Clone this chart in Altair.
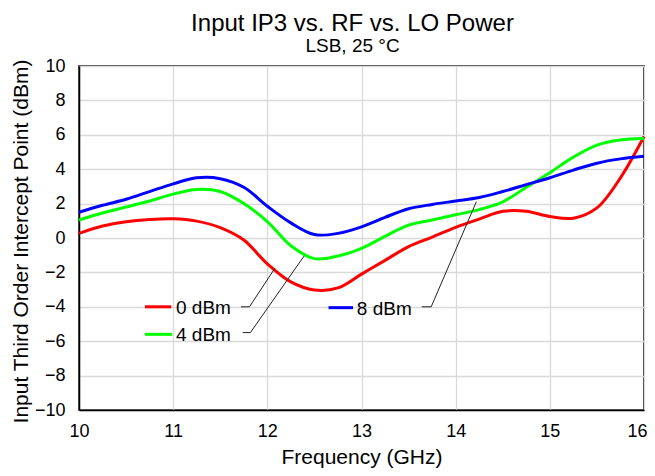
import altair as alt
import pandas as pd

freq = [10.0, 10.25, 10.5, 10.75, 11.0, 11.25, 11.5, 11.75, 12.0, 12.25, 12.5, 12.75,
        13.0, 13.25, 13.5, 13.75, 14.0, 14.25, 14.5, 14.75, 15.0, 15.25, 15.5, 15.75, 16.0]
lo_0dbm = [0.27, 0.7, 0.95, 1.08, 1.12, 0.98, 0.6, -0.12, -1.5, -2.55, -3.02, -2.9,
           -2.1, -1.3, -0.5, 0.05, 0.62, 1.1, 1.55, 1.55, 1.25, 1.15, 1.75, 3.5, 5.9]
lo_4dbm = [1.05, 1.45, 1.8, 2.15, 2.55, 2.82, 2.7, 2.0, 0.95, -0.45, -1.2, -1.05,
           -0.6, 0.1, 0.75, 1.05, 1.35, 1.65, 2.1, 2.95, 3.8, 4.7, 5.4, 5.7, 5.78]
lo_8dbm = [1.5, 1.9, 2.25, 2.7, 3.15, 3.5, 3.45, 2.95, 1.85, 0.88, 0.2, 0.27,
           0.65, 1.2, 1.7, 1.95, 2.15, 2.35, 2.7, 3.1, 3.5, 3.95, 4.35, 4.6, 4.75]

series_names = ["0 dBm", "4 dBm", "8 dBm"]
series_colors = ["#ff0000", "#00ff00", "#0000ff"]

x_ticks = [10, 11, 12, 13, 14, 15, 16]
y_ticks = [-10, -8, -6, -4, -2, 0, 2, 4, 6, 8, 10]

# legend swatch / label anchors (data units)
leg_x1 = [10.70, 10.70, 12.65]
leg_x2 = [10.98, 10.99, 12.91]
leg_y = [-4.0, -5.6, -4.05]
leg_tx = [11.03, 11.03, 12.95]

# leader lines (three points each)
lead_x = [[11.72, 11.81, 12.08], [11.74, 11.82, 12.39], [13.64, 13.74, 14.22]]
lead_y = [[-4.0, -4.0, -1.76], [-5.5, -5.5, -1.05], [-4.0, -4.0, 2.11]]

rows = []
for name, vals in zip(series_names, [lo_0dbm, lo_4dbm, lo_8dbm]):
    for f, v in zip(freq, vals):
        rows.append({"freq": f, "ip3": v, "series": name})
df = pd.DataFrame(rows)

leg_df = pd.DataFrame({"series": series_names, "x1": leg_x1, "x2": leg_x2,
                       "y": leg_y, "tx": leg_tx})

lead_rows = []
for name, xs, ys in zip(series_names, lead_x, lead_y):
    for i, (a, b) in enumerate(zip(xs, ys)):
        lead_rows.append({"series": name, "x": a, "y": b, "o": i})
lead_df = pd.DataFrame(lead_rows)

FONT = "Liberation Sans"

xscale = alt.Scale(domain=[10, 16], nice=False, zero=False)
yscale = alt.Scale(domain=[-10, 10], nice=False, zero=False)
cscale = alt.Scale(domain=series_names, range=series_colors)

xaxis = alt.Axis(title="Frequency (GHz)", values=x_ticks, format="d",
                 labelOverlap=False, labelFlush=False, titleFontSize=21,
                 labelOffset={"expr": "datum.value == 16 ? -7 : 0"},
                 titleBaseline="alphabetic", titleY=53, labelPadding=12)
yaxis = alt.Axis(title="Input Third Order Intercept Point  (dBm)",
                 values=y_ticks, format="d", titleFontSize=21,
                 labelOverlap=False, labelFlush=False,
                 titleBaseline="alphabetic", titleX=-52, titleY=175,
                 labelPadding=14)

lines = alt.Chart(df).mark_line(strokeWidth=3, interpolate="catmull-rom").encode(
    x=alt.X("freq:Q", scale=xscale, axis=xaxis),
    y=alt.Y("ip3:Q", scale=yscale, axis=yaxis),
    color=alt.Color("series:N", scale=cscale, legend=None),
)

swatch = alt.Chart(leg_df).mark_rule(strokeWidth=3).encode(
    x=alt.X("x1:Q", scale=xscale, axis=xaxis),
    x2="x2:Q",
    y=alt.Y("y:Q", scale=yscale, axis=yaxis),
    color=alt.Color("series:N", scale=cscale, legend=None),
)

labels = alt.Chart(leg_df).mark_text(align="left", baseline="middle", fontSize=19,
                                     font=FONT, color="black", dy=1).encode(
    x=alt.X("tx:Q", scale=xscale, axis=xaxis),
    y=alt.Y("y:Q", scale=yscale, axis=yaxis),
    text="series:N",
)

leaders = alt.Chart(lead_df).mark_line(strokeWidth=1, color="#222222").encode(
    x=alt.X("x:Q", scale=xscale, axis=xaxis),
    y=alt.Y("y:Q", scale=yscale, axis=yaxis),
    detail="series:N", order="o:Q",
)

chart = alt.layer(lines, swatch, labels, leaders).properties(
    width=565, height=344,
    title=alt.TitleParams(
        text="Input IP3 vs. RF vs. LO Power",
        subtitle="LSB, 25 °C",
        fontSize=24, subtitleFontSize=19, font=FONT, subtitleFont=FONT,
        fontWeight="normal", color="black", subtitleColor="black",
        anchor="middle", dx=-9, offset=0, subtitlePadding=1,
    ),
    autosize=alt.AutoSizeParams(type="none"),
    padding={"left": 71, "top": 58, "right": 3, "bottom": 58},
).configure_view(
    stroke="black", strokeWidth=1.5
).configure_axis(
    labelFont=FONT, titleFont=FONT, labelFontSize=18,
    labelColor="black", titleColor="black", titleFontWeight="normal",
    gridColor="#d9d9d9", gridWidth=1.3, domainColor="black", domainWidth=1.5,
    ticks=False,
)

chart.save("out.html", embed_options={"renderer": "svg", "actions": False})
